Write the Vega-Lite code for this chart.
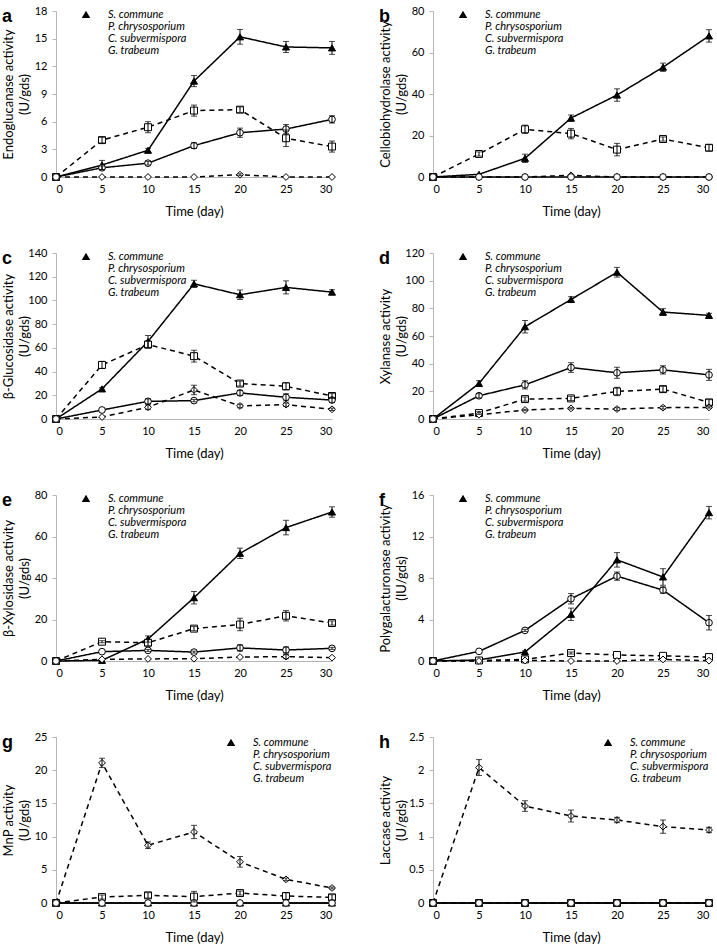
{
"$schema": "https://vega.github.io/schema/vega-lite/v6.json",
"padding": {"left": 2, "top": 5, "right": 5, "bottom": 5},
"config": {"font": "Lato", "view": {"stroke": null},
 "axis": {"grid": false, "domainColor": "#b5b5b5", "tickColor": "#b5b5b5", "labelColor": "black", "titleColor": "black", "labelFont": "Lato", "titleFont": "Lato", "labelFontSize": 11, "titleFontSize": 13, "titleFontWeight": "normal"},
 "axisX": {"ticks": false, "labelPadding": 6, "titlePadding": 11},
 "axisY": {"tickSize": 4, "labelPadding": 5, "titlePadding": 1, "titleLineHeight": 16, "minExtent": 24, "maxExtent": 24},
 "legend": {"labelFont": "Lato", "labelFontStyle": "italic", "labelFontSize": 11, "labelColor": "black", "symbolSize": 100, "labelOffset": 29, "rowPadding": -0.5, "padding": 0},
 "title": {"font": "Liberation Sans", "fontSize": 18, "fontWeight": "bold", "color": "black", "anchor": "start", "frame": "group", "align": "left", "baseline": "middle", "dx": -54, "dy": 25, "offset": 0}
},
"datasets": {"enz": [
{"panel":"a","species":"S. commune","day":0,"value":0,"err":0},
{"panel":"a","species":"S. commune","day":5,"value":1.3,"err":0.5},
{"panel":"a","species":"S. commune","day":10,"value":2.9,"err":0.2},
{"panel":"a","species":"S. commune","day":15,"value":10.4,"err":0.6},
{"panel":"a","species":"S. commune","day":20,"value":15.2,"err":0.8},
{"panel":"a","species":"S. commune","day":25,"value":14.1,"err":0.6},
{"panel":"a","species":"S. commune","day":30,"value":14.0,"err":0.7},
{"panel":"a","species":"P. chrysosporium","day":0,"value":0,"err":0},
{"panel":"a","species":"P. chrysosporium","day":5,"value":4.0,"err":0.3},
{"panel":"a","species":"P. chrysosporium","day":10,"value":5.4,"err":0.6},
{"panel":"a","species":"P. chrysosporium","day":15,"value":7.2,"err":0.6},
{"panel":"a","species":"P. chrysosporium","day":20,"value":7.3,"err":0.3},
{"panel":"a","species":"P. chrysosporium","day":25,"value":4.2,"err":0.9},
{"panel":"a","species":"P. chrysosporium","day":30,"value":3.3,"err":0.6},
{"panel":"a","species":"C. subvermispora","day":0,"value":0,"err":0},
{"panel":"a","species":"C. subvermispora","day":5,"value":0,"err":0},
{"panel":"a","species":"C. subvermispora","day":10,"value":0,"err":0},
{"panel":"a","species":"C. subvermispora","day":15,"value":0,"err":0},
{"panel":"a","species":"C. subvermispora","day":20,"value":0.25,"err":0.1},
{"panel":"a","species":"C. subvermispora","day":25,"value":0,"err":0},
{"panel":"a","species":"C. subvermispora","day":30,"value":0,"err":0},
{"panel":"a","species":"G. trabeum","day":0,"value":0,"err":0},
{"panel":"a","species":"G. trabeum","day":5,"value":1.0,"err":0.2},
{"panel":"a","species":"G. trabeum","day":10,"value":1.5,"err":0.2},
{"panel":"a","species":"G. trabeum","day":15,"value":3.4,"err":0.3},
{"panel":"a","species":"G. trabeum","day":20,"value":4.8,"err":0.5},
{"panel":"a","species":"G. trabeum","day":25,"value":5.2,"err":0.5},
{"panel":"a","species":"G. trabeum","day":30,"value":6.25,"err":0.4},
{"panel":"b","species":"S. commune","day":0,"value":0,"err":0},
{"panel":"b","species":"S. commune","day":5,"value":1.3,"err":0},
{"panel":"b","species":"S. commune","day":10,"value":9.0,"err":2},
{"panel":"b","species":"S. commune","day":15,"value":28.4,"err":1.5},
{"panel":"b","species":"S. commune","day":20,"value":39.5,"err":3},
{"panel":"b","species":"S. commune","day":25,"value":52.9,"err":2},
{"panel":"b","species":"S. commune","day":30,"value":68,"err":3},
{"panel":"b","species":"P. chrysosporium","day":0,"value":0,"err":0},
{"panel":"b","species":"P. chrysosporium","day":5,"value":11.1,"err":1},
{"panel":"b","species":"P. chrysosporium","day":10,"value":23,"err":2},
{"panel":"b","species":"P. chrysosporium","day":15,"value":20.9,"err":2.5},
{"panel":"b","species":"P. chrysosporium","day":20,"value":13.2,"err":3},
{"panel":"b","species":"P. chrysosporium","day":25,"value":18.3,"err":1},
{"panel":"b","species":"P. chrysosporium","day":30,"value":14.1,"err":1.5},
{"panel":"b","species":"C. subvermispora","day":0,"value":0,"err":0},
{"panel":"b","species":"C. subvermispora","day":5,"value":0,"err":0},
{"panel":"b","species":"C. subvermispora","day":10,"value":0,"err":0},
{"panel":"b","species":"C. subvermispora","day":15,"value":0.8,"err":0},
{"panel":"b","species":"C. subvermispora","day":20,"value":0,"err":0},
{"panel":"b","species":"C. subvermispora","day":25,"value":0,"err":0},
{"panel":"b","species":"C. subvermispora","day":30,"value":0,"err":0},
{"panel":"b","species":"G. trabeum","day":0,"value":0,"err":0},
{"panel":"b","species":"G. trabeum","day":5,"value":0,"err":0},
{"panel":"b","species":"G. trabeum","day":10,"value":0,"err":0},
{"panel":"b","species":"G. trabeum","day":15,"value":0,"err":0},
{"panel":"b","species":"G. trabeum","day":20,"value":0,"err":0},
{"panel":"b","species":"G. trabeum","day":25,"value":0,"err":0},
{"panel":"b","species":"G. trabeum","day":30,"value":0,"err":0},
{"panel":"c","species":"S. commune","day":0,"value":0,"err":0},
{"panel":"c","species":"S. commune","day":5,"value":25.4,"err":1},
{"panel":"c","species":"S. commune","day":10,"value":65.4,"err":5},
{"panel":"c","species":"S. commune","day":15,"value":114,"err":3},
{"panel":"c","species":"S. commune","day":20,"value":104.8,"err":4},
{"panel":"c","species":"S. commune","day":25,"value":111,"err":5.5},
{"panel":"c","species":"S. commune","day":30,"value":107,"err":2},
{"panel":"c","species":"P. chrysosporium","day":0,"value":0,"err":0},
{"panel":"c","species":"P. chrysosporium","day":5,"value":45.6,"err":3},
{"panel":"c","species":"P. chrysosporium","day":10,"value":62.8,"err":3},
{"panel":"c","species":"P. chrysosporium","day":15,"value":53,"err":5},
{"panel":"c","species":"P. chrysosporium","day":20,"value":29.9,"err":2},
{"panel":"c","species":"P. chrysosporium","day":25,"value":27.6,"err":3},
{"panel":"c","species":"P. chrysosporium","day":30,"value":19.4,"err":2},
{"panel":"c","species":"C. subvermispora","day":0,"value":0,"err":0},
{"panel":"c","species":"C. subvermispora","day":5,"value":1.7,"err":0},
{"panel":"c","species":"C. subvermispora","day":10,"value":9.9,"err":2},
{"panel":"c","species":"C. subvermispora","day":15,"value":24.5,"err":4},
{"panel":"c","species":"C. subvermispora","day":20,"value":11,"err":1.5},
{"panel":"c","species":"C. subvermispora","day":25,"value":12.1,"err":1.5},
{"panel":"c","species":"C. subvermispora","day":30,"value":8.2,"err":1},
{"panel":"c","species":"G. trabeum","day":0,"value":0,"err":0},
{"panel":"c","species":"G. trabeum","day":5,"value":7.6,"err":0},
{"panel":"c","species":"G. trabeum","day":10,"value":14.9,"err":2},
{"panel":"c","species":"G. trabeum","day":15,"value":15.5,"err":1},
{"panel":"c","species":"G. trabeum","day":20,"value":22,"err":2},
{"panel":"c","species":"G. trabeum","day":25,"value":18.3,"err":3},
{"panel":"c","species":"G. trabeum","day":30,"value":16,"err":2},
{"panel":"d","species":"S. commune","day":0,"value":0,"err":0},
{"panel":"d","species":"S. commune","day":5,"value":25.7,"err":2},
{"panel":"d","species":"S. commune","day":10,"value":66.7,"err":4.5},
{"panel":"d","species":"S. commune","day":15,"value":86.4,"err":2},
{"panel":"d","species":"S. commune","day":20,"value":106.1,"err":3.5},
{"panel":"d","species":"S. commune","day":25,"value":77.3,"err":2.5},
{"panel":"d","species":"S. commune","day":30,"value":74.9,"err":1.5},
{"panel":"d","species":"P. chrysosporium","day":0,"value":0,"err":0},
{"panel":"d","species":"P. chrysosporium","day":5,"value":4.3,"err":1},
{"panel":"d","species":"P. chrysosporium","day":10,"value":14.4,"err":1.5},
{"panel":"d","species":"P. chrysosporium","day":15,"value":14.9,"err":1.5},
{"panel":"d","species":"P. chrysosporium","day":20,"value":19.9,"err":3},
{"panel":"d","species":"P. chrysosporium","day":25,"value":21.6,"err":2},
{"panel":"d","species":"P. chrysosporium","day":30,"value":12,"err":2},
{"panel":"d","species":"C. subvermispora","day":0,"value":0,"err":0},
{"panel":"d","species":"C. subvermispora","day":5,"value":3.1,"err":0},
{"panel":"d","species":"C. subvermispora","day":10,"value":6.5,"err":0.5},
{"panel":"d","species":"C. subvermispora","day":15,"value":7.7,"err":0.5},
{"panel":"d","species":"C. subvermispora","day":20,"value":7.2,"err":1},
{"panel":"d","species":"C. subvermispora","day":25,"value":8.2,"err":1},
{"panel":"d","species":"C. subvermispora","day":30,"value":8.4,"err":0.5},
{"panel":"d","species":"G. trabeum","day":0,"value":0,"err":0},
{"panel":"d","species":"G. trabeum","day":5,"value":16.8,"err":1.5},
{"panel":"d","species":"G. trabeum","day":10,"value":24.7,"err":3},
{"panel":"d","species":"G. trabeum","day":15,"value":37.2,"err":3.5},
{"panel":"d","species":"G. trabeum","day":20,"value":33.4,"err":4},
{"panel":"d","species":"G. trabeum","day":25,"value":35.5,"err":3},
{"panel":"d","species":"G. trabeum","day":30,"value":31.9,"err":4},
{"panel":"e","species":"S. commune","day":0,"value":0,"err":0},
{"panel":"e","species":"S. commune","day":5,"value":0.3,"err":0},
{"panel":"e","species":"S. commune","day":10,"value":10.6,"err":1.5},
{"panel":"e","species":"S. commune","day":15,"value":30.5,"err":3},
{"panel":"e","species":"S. commune","day":20,"value":51.9,"err":2.5},
{"panel":"e","species":"S. commune","day":25,"value":64.3,"err":3.5},
{"panel":"e","species":"S. commune","day":30,"value":71.8,"err":2.5},
{"panel":"e","species":"P. chrysosporium","day":0,"value":0,"err":0},
{"panel":"e","species":"P. chrysosporium","day":5,"value":9.3,"err":0.5},
{"panel":"e","species":"P. chrysosporium","day":10,"value":8.8,"err":1.5},
{"panel":"e","species":"P. chrysosporium","day":15,"value":15.6,"err":1},
{"panel":"e","species":"P. chrysosporium","day":20,"value":17.6,"err":3},
{"panel":"e","species":"P. chrysosporium","day":25,"value":21.8,"err":2.5},
{"panel":"e","species":"P. chrysosporium","day":30,"value":18.3,"err":1},
{"panel":"e","species":"C. subvermispora","day":0,"value":0,"err":0},
{"panel":"e","species":"C. subvermispora","day":5,"value":0.8,"err":0},
{"panel":"e","species":"C. subvermispora","day":10,"value":1.0,"err":0},
{"panel":"e","species":"C. subvermispora","day":15,"value":1.1,"err":0},
{"panel":"e","species":"C. subvermispora","day":20,"value":1.9,"err":0},
{"panel":"e","species":"C. subvermispora","day":25,"value":2.1,"err":1},
{"panel":"e","species":"C. subvermispora","day":30,"value":1.6,"err":0},
{"panel":"e","species":"G. trabeum","day":0,"value":0,"err":0},
{"panel":"e","species":"G. trabeum","day":5,"value":4.5,"err":0},
{"panel":"e","species":"G. trabeum","day":10,"value":5.1,"err":0.5},
{"panel":"e","species":"G. trabeum","day":15,"value":4.3,"err":0.5},
{"panel":"e","species":"G. trabeum","day":20,"value":6.3,"err":1.5},
{"panel":"e","species":"G. trabeum","day":25,"value":5.3,"err":1.5},
{"panel":"e","species":"G. trabeum","day":30,"value":6.1,"err":0.5},
{"panel":"f","species":"S. commune","day":0,"value":0,"err":0},
{"panel":"f","species":"S. commune","day":5,"value":0.1,"err":0},
{"panel":"f","species":"S. commune","day":10,"value":0.87,"err":0.1},
{"panel":"f","species":"S. commune","day":15,"value":4.5,"err":0.6},
{"panel":"f","species":"S. commune","day":20,"value":9.75,"err":0.7},
{"panel":"f","species":"S. commune","day":25,"value":8.1,"err":0.8},
{"panel":"f","species":"S. commune","day":30,"value":14.3,"err":0.6},
{"panel":"f","species":"P. chrysosporium","day":0,"value":0,"err":0},
{"panel":"f","species":"P. chrysosporium","day":5,"value":0.05,"err":0},
{"panel":"f","species":"P. chrysosporium","day":10,"value":0.15,"err":0},
{"panel":"f","species":"P. chrysosporium","day":15,"value":0.77,"err":0.1},
{"panel":"f","species":"P. chrysosporium","day":20,"value":0.58,"err":0},
{"panel":"f","species":"P. chrysosporium","day":25,"value":0.5,"err":0},
{"panel":"f","species":"P. chrysosporium","day":30,"value":0.38,"err":0},
{"panel":"f","species":"C. subvermispora","day":0,"value":0,"err":0},
{"panel":"f","species":"C. subvermispora","day":5,"value":0,"err":0},
{"panel":"f","species":"C. subvermispora","day":10,"value":0.05,"err":0},
{"panel":"f","species":"C. subvermispora","day":15,"value":0,"err":0},
{"panel":"f","species":"C. subvermispora","day":20,"value":0,"err":0},
{"panel":"f","species":"C. subvermispora","day":25,"value":0.15,"err":0},
{"panel":"f","species":"C. subvermispora","day":30,"value":0.03,"err":0},
{"panel":"f","species":"G. trabeum","day":0,"value":0,"err":0},
{"panel":"f","species":"G. trabeum","day":5,"value":0.93,"err":0},
{"panel":"f","species":"G. trabeum","day":10,"value":2.95,"err":0.1},
{"panel":"f","species":"G. trabeum","day":15,"value":6.0,"err":0.5},
{"panel":"f","species":"G. trabeum","day":20,"value":8.18,"err":0.4},
{"panel":"f","species":"G. trabeum","day":25,"value":6.83,"err":0.3},
{"panel":"f","species":"G. trabeum","day":30,"value":3.69,"err":0.7},
{"panel":"g","species":"S. commune","day":0,"value":0,"err":0},
{"panel":"g","species":"S. commune","day":5,"value":0,"err":0},
{"panel":"g","species":"S. commune","day":10,"value":0,"err":0},
{"panel":"g","species":"S. commune","day":15,"value":0,"err":0},
{"panel":"g","species":"S. commune","day":20,"value":0,"err":0},
{"panel":"g","species":"S. commune","day":25,"value":0,"err":0},
{"panel":"g","species":"S. commune","day":30,"value":0,"err":0},
{"panel":"g","species":"P. chrysosporium","day":0,"value":0,"err":0},
{"panel":"g","species":"P. chrysosporium","day":5,"value":0.9,"err":0.3},
{"panel":"g","species":"P. chrysosporium","day":10,"value":1.15,"err":0.4},
{"panel":"g","species":"P. chrysosporium","day":15,"value":0.95,"err":0.8},
{"panel":"g","species":"P. chrysosporium","day":20,"value":1.5,"err":0.3},
{"panel":"g","species":"P. chrysosporium","day":25,"value":1.05,"err":0.5},
{"panel":"g","species":"P. chrysosporium","day":30,"value":0.85,"err":0.4},
{"panel":"g","species":"C. subvermispora","day":0,"value":0,"err":0},
{"panel":"g","species":"C. subvermispora","day":5,"value":21.1,"err":0.7},
{"panel":"g","species":"C. subvermispora","day":10,"value":8.7,"err":0.5},
{"panel":"g","species":"C. subvermispora","day":15,"value":10.7,"err":1.0},
{"panel":"g","species":"C. subvermispora","day":20,"value":6.2,"err":0.8},
{"panel":"g","species":"C. subvermispora","day":25,"value":3.56,"err":0.2},
{"panel":"g","species":"C. subvermispora","day":30,"value":2.26,"err":0.15},
{"panel":"g","species":"G. trabeum","day":0,"value":0,"err":0},
{"panel":"g","species":"G. trabeum","day":5,"value":0,"err":0},
{"panel":"g","species":"G. trabeum","day":10,"value":0,"err":0},
{"panel":"g","species":"G. trabeum","day":15,"value":0,"err":0},
{"panel":"g","species":"G. trabeum","day":20,"value":0,"err":0},
{"panel":"g","species":"G. trabeum","day":25,"value":0,"err":0},
{"panel":"g","species":"G. trabeum","day":30,"value":0,"err":0},
{"panel":"h","species":"S. commune","day":0,"value":0,"err":0},
{"panel":"h","species":"S. commune","day":5,"value":0,"err":0},
{"panel":"h","species":"S. commune","day":10,"value":0,"err":0},
{"panel":"h","species":"S. commune","day":15,"value":0,"err":0},
{"panel":"h","species":"S. commune","day":20,"value":0,"err":0},
{"panel":"h","species":"S. commune","day":25,"value":0,"err":0},
{"panel":"h","species":"S. commune","day":30,"value":0,"err":0},
{"panel":"h","species":"P. chrysosporium","day":0,"value":0,"err":0},
{"panel":"h","species":"P. chrysosporium","day":5,"value":0,"err":0},
{"panel":"h","species":"P. chrysosporium","day":10,"value":0,"err":0},
{"panel":"h","species":"P. chrysosporium","day":15,"value":0,"err":0},
{"panel":"h","species":"P. chrysosporium","day":20,"value":0,"err":0},
{"panel":"h","species":"P. chrysosporium","day":25,"value":0,"err":0},
{"panel":"h","species":"P. chrysosporium","day":30,"value":0,"err":0},
{"panel":"h","species":"C. subvermispora","day":0,"value":0,"err":0},
{"panel":"h","species":"C. subvermispora","day":5,"value":2.04,"err":0.12},
{"panel":"h","species":"C. subvermispora","day":10,"value":1.46,"err":0.08},
{"panel":"h","species":"C. subvermispora","day":15,"value":1.31,"err":0.09},
{"panel":"h","species":"C. subvermispora","day":20,"value":1.25,"err":0.04},
{"panel":"h","species":"C. subvermispora","day":25,"value":1.15,"err":0.1},
{"panel":"h","species":"C. subvermispora","day":30,"value":1.10,"err":0.04},
{"panel":"h","species":"G. trabeum","day":0,"value":0,"err":0},
{"panel":"h","species":"G. trabeum","day":5,"value":0,"err":0},
{"panel":"h","species":"G. trabeum","day":10,"value":0,"err":0},
{"panel":"h","species":"G. trabeum","day":15,"value":0,"err":0},
{"panel":"h","species":"G. trabeum","day":20,"value":0,"err":0},
{"panel":"h","species":"G. trabeum","day":25,"value":0,"err":0},
{"panel":"h","species":"G. trabeum","day":30,"value":0,"err":0}
]},
"columns": 2,
"spacing": {"row": 29, "column": 41},
"resolve": {"scale": {"x": "independent", "y": "independent", "shape": "independent", "fill": "independent", "size": "independent", "strokeDash": "independent"}, "legend": {"shape": "independent", "fill": "independent", "size": "independent", "strokeDash": "independent"}},
"concat": [
{"title": {"text": "a"}, "width": 276, "height": 166, "data": {"name": "enz"}, "transform": [{"filter": "datum.panel === 'a'"}],
 "encoding": {"x": {"field": "day", "type": "quantitative", "scale": {"domain": [0, 30]}, "axis": {"values": [0,5,10,15,20,25,30], "title": "Time (day)"}},
  "y": {"field": "value", "type": "quantitative", "scale": {"domain": [0, 18]}, "axis": {"values": [0,3,6,9,12,15,18], "title": ["Endoglucanase activity", "(U/gds)"]}}},
 "resolve": {"scale": {"shape": "independent", "fill": "independent"}},
 "layer": [
  {"mark": {"type": "line", "color": "black", "strokeWidth": 1.5}, "encoding": {"strokeDash": {"field": "species", "type": "nominal", "scale": {"domain": ["S. commune","P. chrysosporium","C. subvermispora","G. trabeum"], "range": [[1,0],[5,4],[5,4],[1,0]]}, "legend": null}}},
  {"mark": {"type": "point", "filled": true, "stroke": "black", "strokeWidth": 1, "opacity": 1},
   "encoding": {"shape": {"field": "species", "type": "nominal", "scale": {"domain": ["S. commune","P. chrysosporium","C. subvermispora","G. trabeum"], "range": ["triangle-up","square","diamond","circle"]}, "legend": null},
    "fill": {"field": "species", "type": "nominal", "scale": {"domain": ["S. commune","P. chrysosporium","C. subvermispora","G. trabeum"], "range": ["black","white","white","white"]}, "legend": null},
    "size": {"field": "species", "type": "nominal", "scale": {"domain": ["S. commune","P. chrysosporium","C. subvermispora","G. trabeum"], "range": [50,45,28,40]}, "legend": null}}},
  {"transform": [{"filter": "datum.err > 0"}], "mark": {"type": "errorbar", "color": "black", "thickness": 1, "ticks": {"size": 6}}, "encoding": {"yError": {"field": "err"}}},
  {"transform": [{"filter": "datum.day < 0"}], "mark": {"type": "point", "filled": true, "stroke": "black", "strokeWidth": 1.2, "size": 100, "opacity": 1},
   "encoding": {"shape": {"field": "species", "type": "nominal", "scale": {"domain": ["S. commune","P. chrysosporium","C. subvermispora","G. trabeum"], "range": ["M-1,0L6.2,0M2.6,-0.85L3.45,0.6L1.75,0.6Z", "M-1,0L-0.1,0M0.6,0L1.9,0M1.9,-0.7L3.3,-0.7L3.3,0.7L1.9,0.7ZM3.3,0L4,0M5,0L6,0", "M-1,0L-0.1,0M0.6,0L2,0M2.6,-0.6L3.2,0L2.6,0.6L2,0ZM3.2,0L4,0M5,0L6,0", "M-1,0L1.9,0M3.3,0L6.2,0M3.3,0L3.21,0.35L2.95,0.61L2.6,0.7L2.25,0.61L1.99,0.35L1.9,0L1.99,-0.35L2.25,-0.61L2.6,-0.7L2.95,-0.61L3.21,-0.35Z"]}, "legend": {"orient": "none", "legendX": 11, "legendY": -2, "title": null, "symbolOpacity": 1, "symbolStrokeColor": "black", "symbolStrokeWidth": 1.2}},
    "fill": {"field": "species", "type": "nominal", "scale": {"domain": ["S. commune","P. chrysosporium","C. subvermispora","G. trabeum"], "range": ["black","white","white","white"]}, "legend": {"orient": "none", "legendX": 11, "legendY": -2, "title": null, "symbolOpacity": 1, "symbolStrokeColor": "black", "symbolStrokeWidth": 1.2}}}}
 ]},
{"title": {"text": "b"}, "width": 276, "height": 166, "data": {"name": "enz"}, "transform": [{"filter": "datum.panel === 'b'"}],
 "encoding": {"x": {"field": "day", "type": "quantitative", "scale": {"domain": [0, 30]}, "axis": {"values": [0,5,10,15,20,25,30], "title": "Time (day)"}},
  "y": {"field": "value", "type": "quantitative", "scale": {"domain": [0, 80]}, "axis": {"values": [0,20,40,60,80], "title": ["Cellobiohydrolase activity", "(U/gds)"]}}},
 "resolve": {"scale": {"shape": "independent", "fill": "independent"}},
 "layer": [
  {"mark": {"type": "line", "color": "black", "strokeWidth": 1.5}, "encoding": {"strokeDash": {"field": "species", "type": "nominal", "scale": {"domain": ["S. commune","P. chrysosporium","C. subvermispora","G. trabeum"], "range": [[1,0],[5,4],[5,4],[1,0]]}, "legend": null}}},
  {"mark": {"type": "point", "filled": true, "stroke": "black", "strokeWidth": 1, "opacity": 1},
   "encoding": {"shape": {"field": "species", "type": "nominal", "scale": {"domain": ["S. commune","P. chrysosporium","C. subvermispora","G. trabeum"], "range": ["triangle-up","square","diamond","circle"]}, "legend": null},
    "fill": {"field": "species", "type": "nominal", "scale": {"domain": ["S. commune","P. chrysosporium","C. subvermispora","G. trabeum"], "range": ["black","white","white","white"]}, "legend": null},
    "size": {"field": "species", "type": "nominal", "scale": {"domain": ["S. commune","P. chrysosporium","C. subvermispora","G. trabeum"], "range": [50,45,28,40]}, "legend": null}}},
  {"transform": [{"filter": "datum.err > 0"}], "mark": {"type": "errorbar", "color": "black", "thickness": 1, "ticks": {"size": 6}}, "encoding": {"yError": {"field": "err"}}},
  {"transform": [{"filter": "datum.day < 0"}], "mark": {"type": "point", "filled": true, "stroke": "black", "strokeWidth": 1.2, "size": 100, "opacity": 1},
   "encoding": {"shape": {"field": "species", "type": "nominal", "scale": {"domain": ["S. commune","P. chrysosporium","C. subvermispora","G. trabeum"], "range": ["M-1,0L6.2,0M2.6,-0.85L3.45,0.6L1.75,0.6Z", "M-1,0L-0.1,0M0.6,0L1.9,0M1.9,-0.7L3.3,-0.7L3.3,0.7L1.9,0.7ZM3.3,0L4,0M5,0L6,0", "M-1,0L-0.1,0M0.6,0L2,0M2.6,-0.6L3.2,0L2.6,0.6L2,0ZM3.2,0L4,0M5,0L6,0", "M-1,0L1.9,0M3.3,0L6.2,0M3.3,0L3.21,0.35L2.95,0.61L2.6,0.7L2.25,0.61L1.99,0.35L1.9,0L1.99,-0.35L2.25,-0.61L2.6,-0.7L2.95,-0.61L3.21,-0.35Z"]}, "legend": {"orient": "none", "legendX": 11, "legendY": -2, "title": null, "symbolOpacity": 1, "symbolStrokeColor": "black", "symbolStrokeWidth": 1.2}},
    "fill": {"field": "species", "type": "nominal", "scale": {"domain": ["S. commune","P. chrysosporium","C. subvermispora","G. trabeum"], "range": ["black","white","white","white"]}, "legend": {"orient": "none", "legendX": 11, "legendY": -2, "title": null, "symbolOpacity": 1, "symbolStrokeColor": "black", "symbolStrokeWidth": 1.2}}}}
 ]},
{"title": {"text": "c"}, "width": 276, "height": 166, "data": {"name": "enz"}, "transform": [{"filter": "datum.panel === 'c'"}],
 "encoding": {"x": {"field": "day", "type": "quantitative", "scale": {"domain": [0, 30]}, "axis": {"values": [0,5,10,15,20,25,30], "title": "Time (day)"}},
  "y": {"field": "value", "type": "quantitative", "scale": {"domain": [0, 140]}, "axis": {"values": [0,20,40,60,80,100,120,140], "title": ["β-Glucosidase activity", "(U/gds)"]}}},
 "resolve": {"scale": {"shape": "independent", "fill": "independent"}},
 "layer": [
  {"mark": {"type": "line", "color": "black", "strokeWidth": 1.5}, "encoding": {"strokeDash": {"field": "species", "type": "nominal", "scale": {"domain": ["S. commune","P. chrysosporium","C. subvermispora","G. trabeum"], "range": [[1,0],[5,4],[5,4],[1,0]]}, "legend": null}}},
  {"mark": {"type": "point", "filled": true, "stroke": "black", "strokeWidth": 1, "opacity": 1},
   "encoding": {"shape": {"field": "species", "type": "nominal", "scale": {"domain": ["S. commune","P. chrysosporium","C. subvermispora","G. trabeum"], "range": ["triangle-up","square","diamond","circle"]}, "legend": null},
    "fill": {"field": "species", "type": "nominal", "scale": {"domain": ["S. commune","P. chrysosporium","C. subvermispora","G. trabeum"], "range": ["black","white","white","white"]}, "legend": null},
    "size": {"field": "species", "type": "nominal", "scale": {"domain": ["S. commune","P. chrysosporium","C. subvermispora","G. trabeum"], "range": [50,45,28,40]}, "legend": null}}},
  {"transform": [{"filter": "datum.err > 0"}], "mark": {"type": "errorbar", "color": "black", "thickness": 1, "ticks": {"size": 6}}, "encoding": {"yError": {"field": "err"}}},
  {"transform": [{"filter": "datum.day < 0"}], "mark": {"type": "point", "filled": true, "stroke": "black", "strokeWidth": 1.2, "size": 100, "opacity": 1},
   "encoding": {"shape": {"field": "species", "type": "nominal", "scale": {"domain": ["S. commune","P. chrysosporium","C. subvermispora","G. trabeum"], "range": ["M-1,0L6.2,0M2.6,-0.85L3.45,0.6L1.75,0.6Z", "M-1,0L-0.1,0M0.6,0L1.9,0M1.9,-0.7L3.3,-0.7L3.3,0.7L1.9,0.7ZM3.3,0L4,0M5,0L6,0", "M-1,0L-0.1,0M0.6,0L2,0M2.6,-0.6L3.2,0L2.6,0.6L2,0ZM3.2,0L4,0M5,0L6,0", "M-1,0L1.9,0M3.3,0L6.2,0M3.3,0L3.21,0.35L2.95,0.61L2.6,0.7L2.25,0.61L1.99,0.35L1.9,0L1.99,-0.35L2.25,-0.61L2.6,-0.7L2.95,-0.61L3.21,-0.35Z"]}, "legend": {"orient": "none", "legendX": 11, "legendY": -2, "title": null, "symbolOpacity": 1, "symbolStrokeColor": "black", "symbolStrokeWidth": 1.2}},
    "fill": {"field": "species", "type": "nominal", "scale": {"domain": ["S. commune","P. chrysosporium","C. subvermispora","G. trabeum"], "range": ["black","white","white","white"]}, "legend": {"orient": "none", "legendX": 11, "legendY": -2, "title": null, "symbolOpacity": 1, "symbolStrokeColor": "black", "symbolStrokeWidth": 1.2}}}}
 ]},
{"title": {"text": "d"}, "width": 276, "height": 166, "data": {"name": "enz"}, "transform": [{"filter": "datum.panel === 'd'"}],
 "encoding": {"x": {"field": "day", "type": "quantitative", "scale": {"domain": [0, 30]}, "axis": {"values": [0,5,10,15,20,25,30], "title": "Time (day)"}},
  "y": {"field": "value", "type": "quantitative", "scale": {"domain": [0, 120]}, "axis": {"values": [0,20,40,60,80,100,120], "title": ["Xylanase activity", "(U/gds)"]}}},
 "resolve": {"scale": {"shape": "independent", "fill": "independent"}},
 "layer": [
  {"mark": {"type": "line", "color": "black", "strokeWidth": 1.5}, "encoding": {"strokeDash": {"field": "species", "type": "nominal", "scale": {"domain": ["S. commune","P. chrysosporium","C. subvermispora","G. trabeum"], "range": [[1,0],[5,4],[5,4],[1,0]]}, "legend": null}}},
  {"mark": {"type": "point", "filled": true, "stroke": "black", "strokeWidth": 1, "opacity": 1},
   "encoding": {"shape": {"field": "species", "type": "nominal", "scale": {"domain": ["S. commune","P. chrysosporium","C. subvermispora","G. trabeum"], "range": ["triangle-up","square","diamond","circle"]}, "legend": null},
    "fill": {"field": "species", "type": "nominal", "scale": {"domain": ["S. commune","P. chrysosporium","C. subvermispora","G. trabeum"], "range": ["black","white","white","white"]}, "legend": null},
    "size": {"field": "species", "type": "nominal", "scale": {"domain": ["S. commune","P. chrysosporium","C. subvermispora","G. trabeum"], "range": [50,45,28,40]}, "legend": null}}},
  {"transform": [{"filter": "datum.err > 0"}], "mark": {"type": "errorbar", "color": "black", "thickness": 1, "ticks": {"size": 6}}, "encoding": {"yError": {"field": "err"}}},
  {"transform": [{"filter": "datum.day < 0"}], "mark": {"type": "point", "filled": true, "stroke": "black", "strokeWidth": 1.2, "size": 100, "opacity": 1},
   "encoding": {"shape": {"field": "species", "type": "nominal", "scale": {"domain": ["S. commune","P. chrysosporium","C. subvermispora","G. trabeum"], "range": ["M-1,0L6.2,0M2.6,-0.85L3.45,0.6L1.75,0.6Z", "M-1,0L-0.1,0M0.6,0L1.9,0M1.9,-0.7L3.3,-0.7L3.3,0.7L1.9,0.7ZM3.3,0L4,0M5,0L6,0", "M-1,0L-0.1,0M0.6,0L2,0M2.6,-0.6L3.2,0L2.6,0.6L2,0ZM3.2,0L4,0M5,0L6,0", "M-1,0L1.9,0M3.3,0L6.2,0M3.3,0L3.21,0.35L2.95,0.61L2.6,0.7L2.25,0.61L1.99,0.35L1.9,0L1.99,-0.35L2.25,-0.61L2.6,-0.7L2.95,-0.61L3.21,-0.35Z"]}, "legend": {"orient": "none", "legendX": 11, "legendY": -2, "title": null, "symbolOpacity": 1, "symbolStrokeColor": "black", "symbolStrokeWidth": 1.2}},
    "fill": {"field": "species", "type": "nominal", "scale": {"domain": ["S. commune","P. chrysosporium","C. subvermispora","G. trabeum"], "range": ["black","white","white","white"]}, "legend": {"orient": "none", "legendX": 11, "legendY": -2, "title": null, "symbolOpacity": 1, "symbolStrokeColor": "black", "symbolStrokeWidth": 1.2}}}}
 ]},
{"title": {"text": "e"}, "width": 276, "height": 166, "data": {"name": "enz"}, "transform": [{"filter": "datum.panel === 'e'"}],
 "encoding": {"x": {"field": "day", "type": "quantitative", "scale": {"domain": [0, 30]}, "axis": {"values": [0,5,10,15,20,25,30], "title": "Time (day)"}},
  "y": {"field": "value", "type": "quantitative", "scale": {"domain": [0, 80]}, "axis": {"values": [0,20,40,60,80], "title": ["β-Xylosidase activity", "(U/gds)"]}}},
 "resolve": {"scale": {"shape": "independent", "fill": "independent"}},
 "layer": [
  {"mark": {"type": "line", "color": "black", "strokeWidth": 1.5}, "encoding": {"strokeDash": {"field": "species", "type": "nominal", "scale": {"domain": ["S. commune","P. chrysosporium","C. subvermispora","G. trabeum"], "range": [[1,0],[5,4],[5,4],[1,0]]}, "legend": null}}},
  {"mark": {"type": "point", "filled": true, "stroke": "black", "strokeWidth": 1, "opacity": 1},
   "encoding": {"shape": {"field": "species", "type": "nominal", "scale": {"domain": ["S. commune","P. chrysosporium","C. subvermispora","G. trabeum"], "range": ["triangle-up","square","diamond","circle"]}, "legend": null},
    "fill": {"field": "species", "type": "nominal", "scale": {"domain": ["S. commune","P. chrysosporium","C. subvermispora","G. trabeum"], "range": ["black","white","white","white"]}, "legend": null},
    "size": {"field": "species", "type": "nominal", "scale": {"domain": ["S. commune","P. chrysosporium","C. subvermispora","G. trabeum"], "range": [50,45,28,40]}, "legend": null}}},
  {"transform": [{"filter": "datum.err > 0"}], "mark": {"type": "errorbar", "color": "black", "thickness": 1, "ticks": {"size": 6}}, "encoding": {"yError": {"field": "err"}}},
  {"transform": [{"filter": "datum.day < 0"}], "mark": {"type": "point", "filled": true, "stroke": "black", "strokeWidth": 1.2, "size": 100, "opacity": 1},
   "encoding": {"shape": {"field": "species", "type": "nominal", "scale": {"domain": ["S. commune","P. chrysosporium","C. subvermispora","G. trabeum"], "range": ["M-1,0L6.2,0M2.6,-0.85L3.45,0.6L1.75,0.6Z", "M-1,0L-0.1,0M0.6,0L1.9,0M1.9,-0.7L3.3,-0.7L3.3,0.7L1.9,0.7ZM3.3,0L4,0M5,0L6,0", "M-1,0L-0.1,0M0.6,0L2,0M2.6,-0.6L3.2,0L2.6,0.6L2,0ZM3.2,0L4,0M5,0L6,0", "M-1,0L1.9,0M3.3,0L6.2,0M3.3,0L3.21,0.35L2.95,0.61L2.6,0.7L2.25,0.61L1.99,0.35L1.9,0L1.99,-0.35L2.25,-0.61L2.6,-0.7L2.95,-0.61L3.21,-0.35Z"]}, "legend": {"orient": "none", "legendX": 11, "legendY": -2, "title": null, "symbolOpacity": 1, "symbolStrokeColor": "black", "symbolStrokeWidth": 1.2}},
    "fill": {"field": "species", "type": "nominal", "scale": {"domain": ["S. commune","P. chrysosporium","C. subvermispora","G. trabeum"], "range": ["black","white","white","white"]}, "legend": {"orient": "none", "legendX": 11, "legendY": -2, "title": null, "symbolOpacity": 1, "symbolStrokeColor": "black", "symbolStrokeWidth": 1.2}}}}
 ]},
{"title": {"text": "f"}, "width": 276, "height": 166, "data": {"name": "enz"}, "transform": [{"filter": "datum.panel === 'f'"}],
 "encoding": {"x": {"field": "day", "type": "quantitative", "scale": {"domain": [0, 30]}, "axis": {"values": [0,5,10,15,20,25,30], "title": "Time (day)"}},
  "y": {"field": "value", "type": "quantitative", "scale": {"domain": [0, 16]}, "axis": {"values": [0,4,8,12,16], "title": ["Polygalacturonase activity", "(IU/gds)"]}}},
 "resolve": {"scale": {"shape": "independent", "fill": "independent"}},
 "layer": [
  {"mark": {"type": "line", "color": "black", "strokeWidth": 1.5}, "encoding": {"strokeDash": {"field": "species", "type": "nominal", "scale": {"domain": ["S. commune","P. chrysosporium","C. subvermispora","G. trabeum"], "range": [[1,0],[5,4],[5,4],[1,0]]}, "legend": null}}},
  {"mark": {"type": "point", "filled": true, "stroke": "black", "strokeWidth": 1, "opacity": 1},
   "encoding": {"shape": {"field": "species", "type": "nominal", "scale": {"domain": ["S. commune","P. chrysosporium","C. subvermispora","G. trabeum"], "range": ["triangle-up","square","diamond","circle"]}, "legend": null},
    "fill": {"field": "species", "type": "nominal", "scale": {"domain": ["S. commune","P. chrysosporium","C. subvermispora","G. trabeum"], "range": ["black","white","white","white"]}, "legend": null},
    "size": {"field": "species", "type": "nominal", "scale": {"domain": ["S. commune","P. chrysosporium","C. subvermispora","G. trabeum"], "range": [50,45,28,40]}, "legend": null}}},
  {"transform": [{"filter": "datum.err > 0"}], "mark": {"type": "errorbar", "color": "black", "thickness": 1, "ticks": {"size": 6}}, "encoding": {"yError": {"field": "err"}}},
  {"transform": [{"filter": "datum.day < 0"}], "mark": {"type": "point", "filled": true, "stroke": "black", "strokeWidth": 1.2, "size": 100, "opacity": 1},
   "encoding": {"shape": {"field": "species", "type": "nominal", "scale": {"domain": ["S. commune","P. chrysosporium","C. subvermispora","G. trabeum"], "range": ["M-1,0L6.2,0M2.6,-0.85L3.45,0.6L1.75,0.6Z", "M-1,0L-0.1,0M0.6,0L1.9,0M1.9,-0.7L3.3,-0.7L3.3,0.7L1.9,0.7ZM3.3,0L4,0M5,0L6,0", "M-1,0L-0.1,0M0.6,0L2,0M2.6,-0.6L3.2,0L2.6,0.6L2,0ZM3.2,0L4,0M5,0L6,0", "M-1,0L1.9,0M3.3,0L6.2,0M3.3,0L3.21,0.35L2.95,0.61L2.6,0.7L2.25,0.61L1.99,0.35L1.9,0L1.99,-0.35L2.25,-0.61L2.6,-0.7L2.95,-0.61L3.21,-0.35Z"]}, "legend": {"orient": "none", "legendX": 11, "legendY": -2, "title": null, "symbolOpacity": 1, "symbolStrokeColor": "black", "symbolStrokeWidth": 1.2}},
    "fill": {"field": "species", "type": "nominal", "scale": {"domain": ["S. commune","P. chrysosporium","C. subvermispora","G. trabeum"], "range": ["black","white","white","white"]}, "legend": {"orient": "none", "legendX": 11, "legendY": -2, "title": null, "symbolOpacity": 1, "symbolStrokeColor": "black", "symbolStrokeWidth": 1.2}}}}
 ]},
{"title": {"text": "g"}, "width": 276, "height": 166, "data": {"name": "enz"}, "transform": [{"filter": "datum.panel === 'g'"}],
 "encoding": {"x": {"field": "day", "type": "quantitative", "scale": {"domain": [0, 30]}, "axis": {"values": [0,5,10,15,20,25,30], "title": "Time (day)"}},
  "y": {"field": "value", "type": "quantitative", "scale": {"domain": [0, 25]}, "axis": {"values": [0,5,10,15,20,25], "title": ["MnP activity", "(U/gds)"]}}},
 "resolve": {"scale": {"shape": "independent", "fill": "independent"}},
 "layer": [
  {"mark": {"type": "line", "color": "black", "strokeWidth": 1.5}, "encoding": {"strokeDash": {"field": "species", "type": "nominal", "scale": {"domain": ["S. commune","P. chrysosporium","C. subvermispora","G. trabeum"], "range": [[1,0],[5,4],[5,4],[1,0]]}, "legend": null}}},
  {"mark": {"type": "point", "filled": true, "stroke": "black", "strokeWidth": 1, "opacity": 1},
   "encoding": {"shape": {"field": "species", "type": "nominal", "scale": {"domain": ["S. commune","P. chrysosporium","C. subvermispora","G. trabeum"], "range": ["triangle-up","square","diamond","circle"]}, "legend": null},
    "fill": {"field": "species", "type": "nominal", "scale": {"domain": ["S. commune","P. chrysosporium","C. subvermispora","G. trabeum"], "range": ["black","white","white","white"]}, "legend": null},
    "size": {"field": "species", "type": "nominal", "scale": {"domain": ["S. commune","P. chrysosporium","C. subvermispora","G. trabeum"], "range": [50,45,28,40]}, "legend": null}}},
  {"transform": [{"filter": "datum.err > 0"}], "mark": {"type": "errorbar", "color": "black", "thickness": 1, "ticks": {"size": 6}}, "encoding": {"yError": {"field": "err"}}},
  {"transform": [{"filter": "datum.day < 0"}], "mark": {"type": "point", "filled": true, "stroke": "black", "strokeWidth": 1.2, "size": 100, "opacity": 1},
   "encoding": {"shape": {"field": "species", "type": "nominal", "scale": {"domain": ["S. commune","P. chrysosporium","C. subvermispora","G. trabeum"], "range": ["M-1,0L6.2,0M2.6,-0.85L3.45,0.6L1.75,0.6Z", "M-1,0L-0.1,0M0.6,0L1.9,0M1.9,-0.7L3.3,-0.7L3.3,0.7L1.9,0.7ZM3.3,0L4,0M5,0L6,0", "M-1,0L-0.1,0M0.6,0L2,0M2.6,-0.6L3.2,0L2.6,0.6L2,0ZM3.2,0L4,0M5,0L6,0", "M-1,0L1.9,0M3.3,0L6.2,0M3.3,0L3.21,0.35L2.95,0.61L2.6,0.7L2.25,0.61L1.99,0.35L1.9,0L1.99,-0.35L2.25,-0.61L2.6,-0.7L2.95,-0.61L3.21,-0.35Z"]}, "legend": {"orient": "none", "legendX": 156, "legendY": 0, "title": null, "symbolOpacity": 1, "symbolStrokeColor": "black", "symbolStrokeWidth": 1.2}},
    "fill": {"field": "species", "type": "nominal", "scale": {"domain": ["S. commune","P. chrysosporium","C. subvermispora","G. trabeum"], "range": ["black","white","white","white"]}, "legend": {"orient": "none", "legendX": 156, "legendY": 0, "title": null, "symbolOpacity": 1, "symbolStrokeColor": "black", "symbolStrokeWidth": 1.2}}}}
 ]},
{"title": {"text": "h"}, "width": 276, "height": 166, "data": {"name": "enz"}, "transform": [{"filter": "datum.panel === 'h'"}],
 "encoding": {"x": {"field": "day", "type": "quantitative", "scale": {"domain": [0, 30]}, "axis": {"values": [0,5,10,15,20,25,30], "title": "Time (day)"}},
  "y": {"field": "value", "type": "quantitative", "scale": {"domain": [0, 2.5]}, "axis": {"values": [0,0.5,1,1.5,2,2.5], "format": "~f", "title": ["Laccase activity", "(U/gds)"]}}},
 "resolve": {"scale": {"shape": "independent", "fill": "independent"}},
 "layer": [
  {"mark": {"type": "line", "color": "black", "strokeWidth": 1.5}, "encoding": {"strokeDash": {"field": "species", "type": "nominal", "scale": {"domain": ["S. commune","P. chrysosporium","C. subvermispora","G. trabeum"], "range": [[1,0],[5,4],[5,4],[1,0]]}, "legend": null}}},
  {"mark": {"type": "point", "filled": true, "stroke": "black", "strokeWidth": 1, "opacity": 1},
   "encoding": {"shape": {"field": "species", "type": "nominal", "scale": {"domain": ["S. commune","P. chrysosporium","C. subvermispora","G. trabeum"], "range": ["triangle-up","square","diamond","circle"]}, "legend": null},
    "fill": {"field": "species", "type": "nominal", "scale": {"domain": ["S. commune","P. chrysosporium","C. subvermispora","G. trabeum"], "range": ["black","white","white","white"]}, "legend": null},
    "size": {"field": "species", "type": "nominal", "scale": {"domain": ["S. commune","P. chrysosporium","C. subvermispora","G. trabeum"], "range": [50,45,28,40]}, "legend": null}}},
  {"transform": [{"filter": "datum.err > 0"}], "mark": {"type": "errorbar", "color": "black", "thickness": 1, "ticks": {"size": 6}}, "encoding": {"yError": {"field": "err"}}},
  {"transform": [{"filter": "datum.day < 0"}], "mark": {"type": "point", "filled": true, "stroke": "black", "strokeWidth": 1.2, "size": 100, "opacity": 1},
   "encoding": {"shape": {"field": "species", "type": "nominal", "scale": {"domain": ["S. commune","P. chrysosporium","C. subvermispora","G. trabeum"], "range": ["M-1,0L6.2,0M2.6,-0.85L3.45,0.6L1.75,0.6Z", "M-1,0L-0.1,0M0.6,0L1.9,0M1.9,-0.7L3.3,-0.7L3.3,0.7L1.9,0.7ZM3.3,0L4,0M5,0L6,0", "M-1,0L-0.1,0M0.6,0L2,0M2.6,-0.6L3.2,0L2.6,0.6L2,0ZM3.2,0L4,0M5,0L6,0", "M-1,0L1.9,0M3.3,0L6.2,0M3.3,0L3.21,0.35L2.95,0.61L2.6,0.7L2.25,0.61L1.99,0.35L1.9,0L1.99,-0.35L2.25,-0.61L2.6,-0.7L2.95,-0.61L3.21,-0.35Z"]}, "legend": {"orient": "none", "legendX": 156, "legendY": 0, "title": null, "symbolOpacity": 1, "symbolStrokeColor": "black", "symbolStrokeWidth": 1.2}},
    "fill": {"field": "species", "type": "nominal", "scale": {"domain": ["S. commune","P. chrysosporium","C. subvermispora","G. trabeum"], "range": ["black","white","white","white"]}, "legend": {"orient": "none", "legendX": 156, "legendY": 0, "title": null, "symbolOpacity": 1, "symbolStrokeColor": "black", "symbolStrokeWidth": 1.2}}}}
 ]}
]
}
